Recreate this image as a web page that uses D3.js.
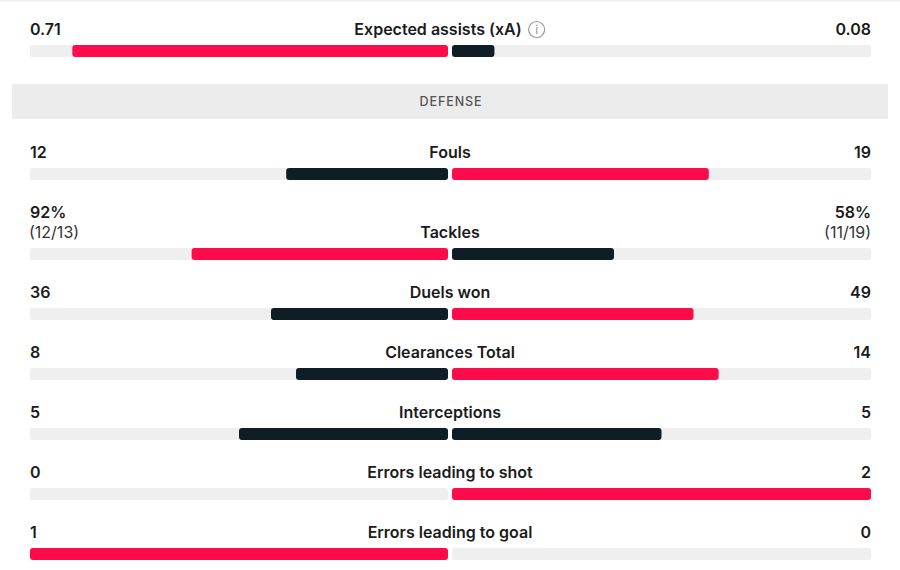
<!DOCTYPE html>
<html>
<head>
<meta charset="utf-8">
<script src="https://cdn.jsdelivr.net/npm/d3@7"></script>
<style>
  html, body { margin: 0; padding: 0; background: #ffffff; }
  svg { display: block; }
  text { font-family: Inter, "Noto Sans", sans-serif; }
</style>
</head>
<body>
<svg id="chart" width="900" height="570"></svg>
<script>
// ---- data ----
const sectionTitle = "DEFENSE";
const statLabels = ["Expected assists (xA)", "Fouls", "Tackles", "Duels won", "Clearances Total", "Interceptions", "Errors leading to shot", "Errors leading to goal"];
const homeValues = [0.71, 12, 92, 36, 8, 5, 0, 1];
const awayValues = [0.08, 19, 58, 49, 14, 5, 2, 0];
const homeText = ["0.71", "12", "92%", "36", "8", "5", "0", "1"];
const awayText = ["0.08", "19", "58%", "49", "14", "5", "2", "0"];
const homeSub = ["", "", "(12/13)", "", "", "", "", ""];
const awaySub = ["", "", "(11/19)", "", "", "", "", ""];
const infoIcon = [true, false, false, false, false, false, false, false];

// ---- style ----
const W = 900;
const trackLeft = 30, trackRight = 871, centerX = 450, gap = 2;
const barH = 12;
const RED = "#ff0a4b", DARK = "#0f1e26", TRACK = "#efefef", TEXT = "#1b1b1b";
const FS = 16;

const svg = d3.select("#chart");

// top hairline
svg.append("rect").attr("x", 0).attr("y", 0).attr("width", W).attr("height", 1.5).attr("fill", "#eeeeee");

// ---- layout: compute bar top for each row ----
const rowTops = [];
let y = 45;
statLabels.forEach((d, i) => {
  if (i === 1) y += 123;           // section header between first and second rows
  else if (i > 0) y += homeSub[i] ? 80 : 60;
  rowTops.push(y);
});
const yScaleIdx = d3.scaleOrdinal().domain(d3.range(statLabels.length)).range(rowTops);

// section header band
const headerY = 84, headerH = 35;
svg.append("rect").attr("x", 12).attr("y", headerY).attr("width", 876).attr("height", headerH)
  .attr("fill", "#ececec").attr("rx", 1);
svg.append("text").attr("x", centerX + 1).attr("y", headerY + headerH / 2 + 4.5)
  .attr("text-anchor", "middle").attr("font-size", 12.5).attr("font-weight", 500)
  .attr("letter-spacing", 0.9).attr("fill", "#555").text(sectionTitle);

const rows = svg.selectAll("g.row").data(statLabels.map((label, i) => ({
  label, i, h: homeValues[i], a: awayValues[i], ht: homeText[i], at: awayText[i],
  hs: homeSub[i], as: awaySub[i], info: infoIcon[i]
}))).join("g").attr("class", "row")
  .attr("transform", d => `translate(0,${yScaleIdx(d.i)})`);

// tracks
rows.append("rect").attr("x", trackLeft).attr("y", 0).attr("width", centerX - gap - trackLeft)
  .attr("height", barH).attr("rx", 2).attr("fill", TRACK);
rows.append("rect").attr("x", centerX + gap).attr("y", 0).attr("width", trackRight - centerX - gap)
  .attr("height", barH).attr("rx", 2).attr("fill", TRACK);

// bars
rows.each(function(d) {
  const g = d3.select(this);
  const total = d.h + d.a;
  const leftScale = d3.scaleLinear().domain([0, total || 1]).range([centerX - gap, trackLeft]);
  const rightScale = d3.scaleLinear().domain([0, total || 1]).range([centerX + gap, trackRight]);
  const hColor = d.h > d.a ? RED : DARK;
  const aColor = d.a > d.h ? RED : DARK;
  if (d.h > 0) {
    g.append("rect").attr("x", leftScale(d.h)).attr("y", 0)
      .attr("width", leftScale(0) - leftScale(d.h)).attr("height", barH)
      .attr("rx", 3).attr("fill", hColor);
  }
  if (d.a > 0) {
    g.append("rect").attr("x", rightScale(0)).attr("y", 0)
      .attr("width", rightScale(d.a) - rightScale(0)).attr("height", barH)
      .attr("rx", 3).attr("fill", aColor);
  }
  // labels
  const base = -10;
  const lbl = g.append("text").attr("x", centerX).attr("y", base).attr("text-anchor", "middle")
    .attr("font-size", FS).attr("font-weight", 600).attr("fill", TEXT).text(d.label);
  if (d.info) {
    const lw = lbl.node().getComputedTextLength();
    const iconSpace = 24;
    const startX = centerX - (lw + iconSpace) / 2;
    lbl.attr("text-anchor", "start").attr("x", startX);
    const cx = startX + lw + 15, cy = base - 5.5;
    g.append("circle").attr("cx", cx).attr("cy", cy).attr("r", 8)
      .attr("fill", "none").attr("stroke", "#9a9a9a").attr("stroke-width", 1.2);
    g.append("text").attr("x", cx).attr("y", cy + 4.5).attr("text-anchor", "middle")
      .attr("font-size", 12).attr("font-weight", 400).attr("fill", "#9a9a9a").text("i");
  }
  const valBase = d.hs ? base - 20 : base;
  g.append("text").attr("x", trackLeft).attr("y", valBase).attr("text-anchor", "start")
    .attr("font-size", FS).attr("font-weight", 600).attr("fill", TEXT).text(d.ht);
  g.append("text").attr("x", trackRight).attr("y", valBase).attr("text-anchor", "end")
    .attr("font-size", FS).attr("font-weight", 600).attr("fill", TEXT).text(d.at);
  if (d.hs) {
    g.append("text").attr("x", trackLeft - 1).attr("y", base).attr("text-anchor", "start")
      .attr("font-size", FS).attr("font-weight", 400).attr("fill", "#333").text(d.hs);
  }
  if (d.as) {
    g.append("text").attr("x", trackRight).attr("y", base).attr("text-anchor", "end")
      .attr("font-size", FS).attr("font-weight", 400).attr("fill", "#333").text(d.as);
  }
});
</script>
</body>
</html>
